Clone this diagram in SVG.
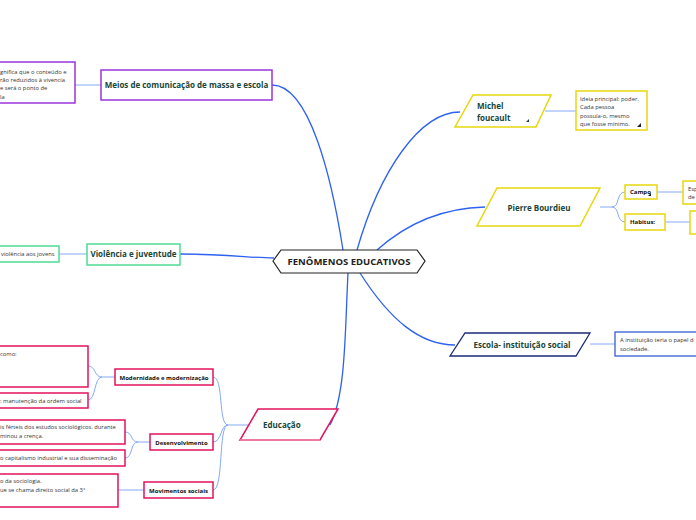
<svg xmlns="http://www.w3.org/2000/svg" width="696" height="520" viewBox="0 0 696 520">
<style>
text{font-family:"Open Sans","Noto Sans","Liberation Sans",sans-serif}
.main{stroke:#2d62f0;stroke-width:1.3;fill:none}
.sub{stroke:#84a9f6;stroke-width:1;fill:none}
.t1{font-size:8px;font-weight:700;fill:#17463a}
.t2{font-size:6px;font-weight:700;fill:#111}
.t3{font-size:5.8px;fill:#333}
.purple{fill:#fff;stroke:#9b34dc;stroke-width:1.5}
.green{fill:#fff;stroke:#4fdc94;stroke-width:1.5}
.yellow{fill:#fff;stroke:#e6d70e;stroke-width:1.5}
.pink{fill:#fff;stroke:#e2135c;stroke-width:1.5}
</style>
<rect width="696" height="520" fill="#fff"/>
<g id="connectors">
<path class="main" d="M272,85 C310,85 332,180 343,250"/>
<path class="main" d="M357,250 C380,170 420,112 460,112"/>
<path class="main" d="M377,250 C405,225 440,208 485,207"/>
<path class="main" d="M360,273 C390,320 420,345 455,345"/>
<path class="main" d="M180,254 C230,254 250,258 274,258"/>
<path class="main" d="M348,273 C345,330 346,395 330,425"/>
<path class="sub" d="M75,85 L101,85"/>
<path class="sub" d="M59,254 L87,254"/>
<path class="sub" d="M545,111 L576,111"/>
<path class="sub" d="M590,344 L615,344"/>
<path class="sub" d="M600,207 L612,207 C620,207 616,192 625,192"/>
<path class="sub" d="M612,207 C620,207 616,222 625,222"/>
<path class="sub" d="M657,192 L683,192"/>
<path class="sub" d="M665,222 L690,222"/>
<path class="sub" d="M248,425 L228,425 C218,425 224,377 213,377"/>
<path class="sub" d="M228,425 C220,425 222,442 213,442"/>
<path class="sub" d="M228,425 C218,425 224,490 213,490"/>
<path class="sub" d="M115,377 L102,377 C94,377 96,366 88,366"/>
<path class="sub" d="M102,377 C94,377 96,400 88,400"/>
<path class="sub" d="M150,442 L138,442 C130,442 133,432 125,432"/>
<path class="sub" d="M138,442 C130,442 133,458 125,458"/>
<path class="sub" d="M144,490 L118,490"/>
</g>
<g id="central">
<polygon points="273,261 281,250 417,250 425,261 417,273 281,273" fill="#fff" stroke="#222" stroke-width="1.2"/>
<text x="349" y="265" text-anchor="middle" font-size="9.5" font-weight="700" fill="#222">FENÔMENOS EDUCATIVOS</text>
</g>
<g id="meios">
<rect x="101" y="70" width="171" height="30" class="purple"/>
<text x="186.5" y="88" text-anchor="middle" class="t1">Meios de comunicação de massa e escola</text>
</g>
<g id="meios-detalhe">
<rect x="-5" y="62" width="80" height="41" class="purple"/>
<text class="t3"><tspan x="0" y="74">gnifica que o conteúdo e</tspan><tspan x="0" y="82">rão reduzidos à vivencia</tspan><tspan x="0" y="90">e será o ponto de</tspan><tspan x="0" y="99">la</tspan></text>
</g>
<g id="violencia">
<rect x="87" y="244" width="93" height="21" class="green"/>
<text x="133.5" y="257" text-anchor="middle" class="t1">Violência e juventude</text>
</g>
<g id="violencia-detalhe">
<rect x="-5" y="246" width="64" height="16" class="green"/>
<text x="1" y="256" class="t3">violência aos jovens</text>
</g>
<g id="michel">
<polygon points="473,95 551,95 536,127 455,127" class="yellow"/>
<text class="t1" font-weight="600"><tspan x="477" y="109">Michel</tspan><tspan x="477" y="121">foucault</tspan></text>
<polygon points="526,122 529,119 529,122" fill="#17463a"/>
</g>
<g id="michel-detalhe">
<rect x="576" y="91" width="71" height="39" class="yellow"/>
<text class="t3"><tspan x="580" y="101">Ideia principal: poder.</tspan><tspan x="580" y="109">Cada pessoa</tspan><tspan x="580" y="118">possuía-o, mesmo</tspan><tspan x="580" y="126">que fosse mínimo.</tspan></text>
<polygon points="637,127 641,123 641,127" fill="#222"/>
</g>
<g id="pierre">
<polygon points="497,188 600,188 580,226 477,226" class="yellow"/>
<text x="539" y="211" text-anchor="middle" class="t1">Pierre Bourdieu</text>
</g>
<g id="campo">
<rect x="625" y="185" width="32" height="14" class="yellow"/>
<text x="630" y="194" class="t2">Campo</text>
<polygon points="648,196 651,193 651,196" fill="#222"/>
</g>
<g id="campo-detalhe">
<rect x="683" y="181" width="20" height="23" class="yellow"/>
<text class="t3"><tspan x="688" y="191">Esp</tspan><tspan x="688" y="199">de</tspan></text>
</g>
<g id="habitus">
<rect x="625" y="214" width="40" height="16" class="yellow"/>
<text x="630" y="224" class="t2">Habitus:</text>
</g>
<g id="habitus-detalhe">
<rect x="690" y="211" width="20" height="23" class="yellow"/>
</g>
<g id="escola">
<polygon points="465,333 590,333 576,356 450,356" fill="#fff" stroke="#1c2a78" stroke-width="1.3"/>
<text x="522" y="348" text-anchor="middle" class="t1">Escola- instituição social</text>
</g>
<g id="escola-detalhe">
<rect x="615" y="332" width="90" height="24" fill="#fff" stroke="#2152d0" stroke-width="1.2"/>
<text class="t3"><tspan x="620" y="342">A instituição teria o papel d</tspan><tspan x="620" y="351">sociedade.</tspan></text>
</g>
<g id="educacao">
<polygon points="258,409 338,409 320,440 240,440" class="pink"/>
<line x1="240" y1="440" x2="320" y2="440" stroke="#f08aa8" stroke-width="1.6"/>
<text x="263" y="428" class="t1" font-size="8.5">Educação</text>
</g>
<g id="modernidade">
<rect x="115" y="369" width="98" height="16" class="pink"/>
<text x="164" y="379.5" text-anchor="middle" class="t2">Modernidade e modernização</text>
</g>
<g id="modernidade-detalhe-1">
<rect x="-5" y="346" width="93" height="41" class="pink"/>
<text x="0" y="356" class="t3">como:</text>
</g>
<g id="modernidade-detalhe-2">
<rect x="-5" y="393" width="93" height="15" class="pink"/>
<text x="0" y="403" class="t3">: manutenção da ordem social</text>
</g>
<g id="desenvolvimento">
<rect x="150" y="434" width="63" height="16" class="pink"/>
<text x="181.5" y="444.5" text-anchor="middle" class="t2">Desenvolvimento</text>
</g>
<g id="desenvolvimento-detalhe-1">
<rect x="-5" y="420" width="130" height="24" class="pink"/>
<text class="t3"><tspan x="0" y="429">is férteis dos estudos sociológicos. durante</tspan><tspan x="0" y="438">minou a crença.</tspan></text>
</g>
<g id="desenvolvimento-detalhe-2">
<rect x="-5" y="450" width="130" height="16" class="pink"/>
<text x="0" y="460" class="t3">o capitalismo industrial e sua disseminação</text>
</g>
<g id="movimentos">
<rect x="144" y="482" width="69" height="16" class="pink"/>
<text x="178.5" y="492.5" text-anchor="middle" class="t2">Movimentos sociais</text>
</g>
<g id="movimentos-detalhe">
<rect x="-5" y="474" width="123" height="33" class="pink"/>
<text class="t3"><tspan x="0" y="483">o da sociologia.</tspan><tspan x="0" y="492">ue se chama direito social da 3°</tspan></text>
</g>
</svg>
